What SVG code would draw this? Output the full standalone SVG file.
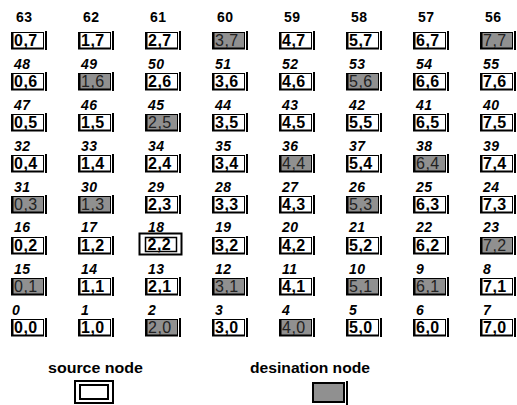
<svg xmlns="http://www.w3.org/2000/svg" xmlns:xlink="http://www.w3.org/1999/xlink" width="517" height="405" viewBox="0 0 517 405">
<style>
text{font-family:"Liberation Sans",Arial,sans-serif}
.t{font-size:16px;font-weight:bold;fill:#000;letter-spacing:0.5px}
.tg{font-size:16px;font-weight:normal;fill:#222;letter-spacing:0.5px}
.l{font-size:14px;font-weight:bold;font-style:italic;fill:#000;letter-spacing:0.5px}
.h{font-size:14px;font-weight:bold;fill:#000;letter-spacing:0.5px}
.lg{font-size:14px;font-weight:bold;fill:#000;text-anchor:middle}
</style>
<defs>
<g id="bw"><rect x="0.5" y="0.5" width="32" height="16" fill="#fff" stroke="#000"/><path d="M1.5 0V17M0 16.5H33M35 -1V18" stroke="#000" stroke-width="2" fill="none"/></g>
<g id="bg"><rect x="0.5" y="0.5" width="32" height="16" fill="#909090" stroke="#000"/><path d="M1.5 0V17M0 16.5H33M35 -1V18" stroke="#000" stroke-width="2" fill="none"/></g>
</defs>
<rect width="517" height="405" fill="#fff"/>
<g id="nodes">
<!-- row 7 -->
<g id="n0_7" transform="translate(11,32)"><use xlink:href="#bw"/><text class="t" x="3" y="13.5">0,7</text><text class="h" x="5" y="-10">63</text></g>
<g id="n1_7" transform="translate(78,32)"><use xlink:href="#bw"/><text class="t" x="3" y="13.5">1,7</text><text class="h" x="5" y="-10">62</text></g>
<g id="n2_7" transform="translate(145,32)"><use xlink:href="#bw"/><text class="t" x="3" y="13.5">2,7</text><text class="h" x="5" y="-10">61</text></g>
<g id="n3_7" transform="translate(212,32)"><use xlink:href="#bg"/><text class="tg" x="3" y="13.5">3,7</text><text class="h" x="5" y="-10">60</text></g>
<g id="n4_7" transform="translate(279,32)"><use xlink:href="#bw"/><text class="t" x="3" y="13.5">4,7</text><text class="h" x="5" y="-10">59</text></g>
<g id="n5_7" transform="translate(346,32)"><use xlink:href="#bw"/><text class="t" x="3" y="13.5">5,7</text><text class="h" x="5" y="-10">58</text></g>
<g id="n6_7" transform="translate(413,32)"><use xlink:href="#bw"/><text class="t" x="3" y="13.5">6,7</text><text class="h" x="5" y="-10">57</text></g>
<g id="n7_7" transform="translate(480,32)"><use xlink:href="#bg"/><text class="tg" x="3" y="13.5">7,7</text><text class="h" x="5" y="-10">56</text></g>
<!-- row 6 -->
<g id="n0_6" transform="translate(11,73)"><use xlink:href="#bw"/><text class="t" x="3" y="13.5">0,6</text><text class="l" x="3" y="-4.5">48</text></g>
<g id="n1_6" transform="translate(78,73)"><use xlink:href="#bg"/><text class="tg" x="3" y="13.5">1,6</text><text class="l" x="3" y="-4.5">49</text></g>
<g id="n2_6" transform="translate(145,73)"><use xlink:href="#bw"/><text class="t" x="3" y="13.5">2,6</text><text class="l" x="3" y="-4.5">50</text></g>
<g id="n3_6" transform="translate(212,73)"><use xlink:href="#bw"/><text class="t" x="3" y="13.5">3,6</text><text class="l" x="3" y="-4.5">51</text></g>
<g id="n4_6" transform="translate(279,73)"><use xlink:href="#bw"/><text class="t" x="3" y="13.5">4,6</text><text class="l" x="3" y="-4.5">52</text></g>
<g id="n5_6" transform="translate(346,73)"><use xlink:href="#bg"/><text class="tg" x="3" y="13.5">5,6</text><text class="l" x="3" y="-4.5">53</text></g>
<g id="n6_6" transform="translate(413,73)"><use xlink:href="#bw"/><text class="t" x="3" y="13.5">6,6</text><text class="l" x="3" y="-4.5">54</text></g>
<g id="n7_6" transform="translate(480,73)"><use xlink:href="#bw"/><text class="t" x="3" y="13.5">7,6</text><text class="l" x="3" y="-4.5">55</text></g>
<!-- row 5 -->
<g id="n0_5" transform="translate(11,114)"><use xlink:href="#bw"/><text class="t" x="3" y="13.5">0,5</text><text class="l" x="3" y="-4.5">47</text></g>
<g id="n1_5" transform="translate(78,114)"><use xlink:href="#bw"/><text class="t" x="3" y="13.5">1,5</text><text class="l" x="3" y="-4.5">46</text></g>
<g id="n2_5" transform="translate(145,114)"><use xlink:href="#bg"/><text class="tg" x="3" y="13.5">2,5</text><text class="l" x="3" y="-4.5">45</text></g>
<g id="n3_5" transform="translate(212,114)"><use xlink:href="#bw"/><text class="t" x="3" y="13.5">3,5</text><text class="l" x="3" y="-4.5">44</text></g>
<g id="n4_5" transform="translate(279,114)"><use xlink:href="#bw"/><text class="t" x="3" y="13.5">4,5</text><text class="l" x="3" y="-4.5">43</text></g>
<g id="n5_5" transform="translate(346,114)"><use xlink:href="#bw"/><text class="t" x="3" y="13.5">5,5</text><text class="l" x="3" y="-4.5">42</text></g>
<g id="n6_5" transform="translate(413,114)"><use xlink:href="#bw"/><text class="t" x="3" y="13.5">6,5</text><text class="l" x="3" y="-4.5">41</text></g>
<g id="n7_5" transform="translate(480,114)"><use xlink:href="#bw"/><text class="t" x="3" y="13.5">7,5</text><text class="l" x="3" y="-4.5">40</text></g>
<!-- row 4 -->
<g id="n0_4" transform="translate(11,155)"><use xlink:href="#bw"/><text class="t" x="3" y="13.5">0,4</text><text class="l" x="3" y="-4.5">32</text></g>
<g id="n1_4" transform="translate(78,155)"><use xlink:href="#bw"/><text class="t" x="3" y="13.5">1,4</text><text class="l" x="3" y="-4.5">33</text></g>
<g id="n2_4" transform="translate(145,155)"><use xlink:href="#bw"/><text class="t" x="3" y="13.5">2,4</text><text class="l" x="3" y="-4.5">34</text></g>
<g id="n3_4" transform="translate(212,155)"><use xlink:href="#bw"/><text class="t" x="3" y="13.5">3,4</text><text class="l" x="3" y="-4.5">35</text></g>
<g id="n4_4" transform="translate(279,155)"><use xlink:href="#bg"/><text class="tg" x="3" y="13.5">4,4</text><text class="l" x="3" y="-4.5">36</text></g>
<g id="n5_4" transform="translate(346,155)"><use xlink:href="#bw"/><text class="t" x="3" y="13.5">5,4</text><text class="l" x="3" y="-4.5">37</text></g>
<g id="n6_4" transform="translate(413,155)"><use xlink:href="#bg"/><text class="tg" x="3" y="13.5">6,4</text><text class="l" x="3" y="-4.5">38</text></g>
<g id="n7_4" transform="translate(480,155)"><use xlink:href="#bw"/><text class="t" x="3" y="13.5">7,4</text><text class="l" x="3" y="-4.5">39</text></g>
<!-- row 3 -->
<g id="n0_3" transform="translate(11,196)"><use xlink:href="#bg"/><text class="tg" x="3" y="13.5">0,3</text><text class="l" x="3" y="-4.5">31</text></g>
<g id="n1_3" transform="translate(78,196)"><use xlink:href="#bg"/><text class="tg" x="3" y="13.5">1,3</text><text class="l" x="3" y="-4.5">30</text></g>
<g id="n2_3" transform="translate(145,196)"><use xlink:href="#bw"/><text class="t" x="3" y="13.5">2,3</text><text class="l" x="3" y="-4.5">29</text></g>
<g id="n3_3" transform="translate(212,196)"><use xlink:href="#bw"/><text class="t" x="3" y="13.5">3,3</text><text class="l" x="3" y="-4.5">28</text></g>
<g id="n4_3" transform="translate(279,196)"><use xlink:href="#bw"/><text class="t" x="3" y="13.5">4,3</text><text class="l" x="3" y="-4.5">27</text></g>
<g id="n5_3" transform="translate(346,196)"><use xlink:href="#bg"/><text class="tg" x="3" y="13.5">5,3</text><text class="l" x="3" y="-4.5">26</text></g>
<g id="n6_3" transform="translate(413,196)"><use xlink:href="#bw"/><text class="t" x="3" y="13.5">6,3</text><text class="l" x="3" y="-4.5">25</text></g>
<g id="n7_3" transform="translate(480,196)"><use xlink:href="#bw"/><text class="t" x="3" y="13.5">7,3</text><text class="l" x="3" y="-4.5">24</text></g>
<!-- row 2 -->
<g id="n0_2" transform="translate(11,237)"><use xlink:href="#bw"/><text class="t" x="3" y="13.5">0,2</text><text class="l" x="3" y="-5">16</text></g>
<g id="n1_2" transform="translate(78,237)"><use xlink:href="#bw"/><text class="t" x="3" y="13.5">1,2</text><text class="l" x="3" y="-5">17</text></g>
<g id="n2_2" transform="translate(145,237)"><rect x="-5.5" y="-3.5" width="42" height="21" fill="#fff" stroke="#000" stroke-width="2"/><rect x="0.5" y="0.5" width="31" height="14" fill="#fff" stroke="#000" stroke-width="1.5"/><text class="t" x="2.5" y="13">2,2</text><text class="l" x="3" y="-5">18</text></g>
<g id="n3_2" transform="translate(212,237)"><use xlink:href="#bw"/><text class="t" x="3" y="13.5">3,2</text><text class="l" x="3" y="-5">19</text></g>
<g id="n4_2" transform="translate(279,237)"><use xlink:href="#bw"/><text class="t" x="3" y="13.5">4,2</text><text class="l" x="3" y="-5">20</text></g>
<g id="n5_2" transform="translate(346,237)"><use xlink:href="#bw"/><text class="t" x="3" y="13.5">5,2</text><text class="l" x="3" y="-5">21</text></g>
<g id="n6_2" transform="translate(413,237)"><use xlink:href="#bw"/><text class="t" x="3" y="13.5">6,2</text><text class="l" x="3" y="-5">22</text></g>
<g id="n7_2" transform="translate(480,237)"><use xlink:href="#bg"/><text class="tg" x="3" y="13.5">7,2</text><text class="l" x="3" y="-5">23</text></g>
<!-- row 1 -->
<g id="n0_1" transform="translate(11,278)"><use xlink:href="#bg"/><text class="tg" x="3" y="13.5">0,1</text><text class="l" x="3" y="-4.5">15</text></g>
<g id="n1_1" transform="translate(78,278)"><use xlink:href="#bw"/><text class="t" x="3" y="13.5">1,1</text><text class="l" x="3" y="-4.5">14</text></g>
<g id="n2_1" transform="translate(145,278)"><use xlink:href="#bw"/><text class="t" x="3" y="13.5">2,1</text><text class="l" x="3" y="-4.5">13</text></g>
<g id="n3_1" transform="translate(212,278)"><use xlink:href="#bg"/><text class="tg" x="3" y="13.5">3,1</text><text class="l" x="3" y="-4.5">12</text></g>
<g id="n4_1" transform="translate(279,278)"><use xlink:href="#bw"/><text class="t" x="3" y="13.5">4,1</text><text class="l" x="3" y="-4.5">11</text></g>
<g id="n5_1" transform="translate(346,278)"><use xlink:href="#bg"/><text class="tg" x="3" y="13.5">5,1</text><text class="l" x="3" y="-4.5">10</text></g>
<g id="n6_1" transform="translate(413,278)"><use xlink:href="#bg"/><text class="tg" x="3" y="13.5">6,1</text><text class="l" x="3" y="-4.5">9</text></g>
<g id="n7_1" transform="translate(480,278)"><use xlink:href="#bw"/><text class="t" x="3" y="13.5">7,1</text><text class="l" x="3" y="-4.5">8</text></g>
<!-- row 0 -->
<g id="n0_0" transform="translate(11,319)"><use xlink:href="#bw"/><text class="t" x="3" y="13.5">0,0</text><text class="l" x="1" y="-4.5">0</text></g>
<g id="n1_0" transform="translate(78,319)"><use xlink:href="#bw"/><text class="t" x="3" y="13.5">1,0</text><text class="l" x="3" y="-4.5">1</text></g>
<g id="n2_0" transform="translate(145,319)"><use xlink:href="#bg"/><text class="tg" x="3" y="13.5">2,0</text><text class="l" x="3" y="-4.5">2</text></g>
<g id="n3_0" transform="translate(212,319)"><use xlink:href="#bw"/><text class="t" x="3" y="13.5">3,0</text><text class="l" x="3" y="-4.5">3</text></g>
<g id="n4_0" transform="translate(279,319)"><use xlink:href="#bg"/><text class="tg" x="3" y="13.5">4,0</text><text class="l" x="3" y="-4.5">4</text></g>
<g id="n5_0" transform="translate(346,319)"><use xlink:href="#bw"/><text class="t" x="3" y="13.5">5,0</text><text class="l" x="3" y="-4.5">5</text></g>
<g id="n6_0" transform="translate(413,319)"><use xlink:href="#bw"/><text class="t" x="3" y="13.5">6,0</text><text class="l" x="3" y="-4.5">6</text></g>
<g id="n7_0" transform="translate(480,319)"><use xlink:href="#bw"/><text class="t" x="3" y="13.5">7,0</text><text class="l" x="3" y="-4.5">7</text></g>
</g>
<g id="legend-source">
<text class="lg" x="95.5" y="373" textLength="95" lengthAdjust="spacingAndGlyphs">source node</text>
<rect x="75" y="381" width="38" height="22" fill="#fff" stroke="#000" stroke-width="2"/>
<rect x="80" y="385" width="28" height="14" fill="#fff" stroke="#000" stroke-width="2"/>
</g>
<g id="legend-destination">
<text class="lg" x="310" y="373" textLength="120" lengthAdjust="spacingAndGlyphs">desination node</text>
<rect x="313" y="383" width="31" height="19" fill="#909090" stroke="#000" stroke-width="2"/>
<path d="M347 381V405" stroke="#000" stroke-width="2"/>
</g>
</svg>
